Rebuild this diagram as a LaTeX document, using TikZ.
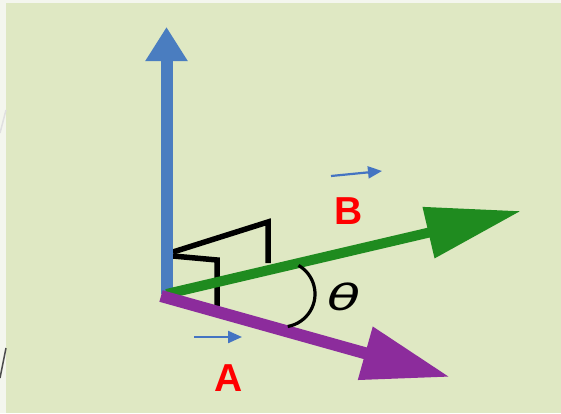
\documentclass[tikz,border=0pt]{standalone}
\usepackage{fontspec}
\setmainfont{Liberation Sans}
\newfontfamily\thetafont{DejaVu Sans}
\usetikzlibrary{arrows.meta}
\definecolor{bgmain}{HTML}{DFE8C3}
\definecolor{bgedge}{HTML}{F4F6EE}
\definecolor{axisblue}{HTML}{4A7DC0}
\definecolor{vecgreen}{HTML}{1F8B1F}
\definecolor{vecpurple}{HTML}{8C2C9C}
\definecolor{smallblue}{HTML}{4474C2}
\tikzset{
  bigvec/.style={line cap=butt},
  smallvec/.style={draw=smallblue, line width=2.2bp, -{Triangle[length=14bp,width=12bp]}},
  rightmark/.style={draw=black, line width=5.5bp, line join=miter},
  lbl/.style={text=red, font=\fontsize{39bp}{39bp}\selectfont\bfseries, inner sep=0pt}
}
\begin{document}
\begin{tikzpicture}[x=1bp,y=1bp]
\useasboundingbox (0,0) rectangle (561,413);
\fill[bgedge] (0,0) rectangle (561,413);
\fill[bgmain] (6,0) rectangle (561,410);
\draw[black!70, line width=1.5bp] (6,65) -- (0,35);
\draw[black!12, line width=1.5bp] (6,303) -- (0,280);

\coordinate (O) at (166.5,119);
\coordinate (Ob) at (161,117);
\coordinate (Tb) at (166.5,386);
\coordinate (Tg) at (521,202);
\coordinate (Tp) at (450,36);

% right-angle marks
\draw[rightmark] (173,161) -- (268,191) -- (268,150);
\draw[rightmark] (173,157) -- (217,153) -- (217,107);

% vectors
\draw[bigvec, draw=axisblue, line width=12bp, -{Triangle[length=34bp,width=40bp]}] (O) -- (Tb);
\draw[bigvec, draw=vecgreen, line width=10bp, -{Triangle[length=95bp,width=50bp]}] (O) -- (Tg);
\draw[bigvec, draw=vecpurple, line width=12bp, -{Triangle[length=88bp,width=52bp]}] (Ob) -- (Tp);

% angle arc
\coordinate (ArcS) at (298.5,147.6);
\draw[black, line width=3.2bp] (ArcS) arc[start angle=60, end angle=-80, radius=33];
\node[inner sep=0pt, xscale=1.5, font=\fontsize{36bp}{36bp}\selectfont\thetafont\itshape] (theta) at (344,116) {θ};

% small arrows and labels
\coordinate (bs) at (331,237);
\coordinate (be) at (382,242);
\draw[smallvec] (bs) -- (be);
\coordinate (as) at (194,76);
\coordinate (ae) at (242,76);
\draw[smallvec] (as) -- (ae);
\node[lbl] (B) at (349,202) {B};
\node[lbl] (A) at (229,35) {A};
\end{tikzpicture}
\end{document}
